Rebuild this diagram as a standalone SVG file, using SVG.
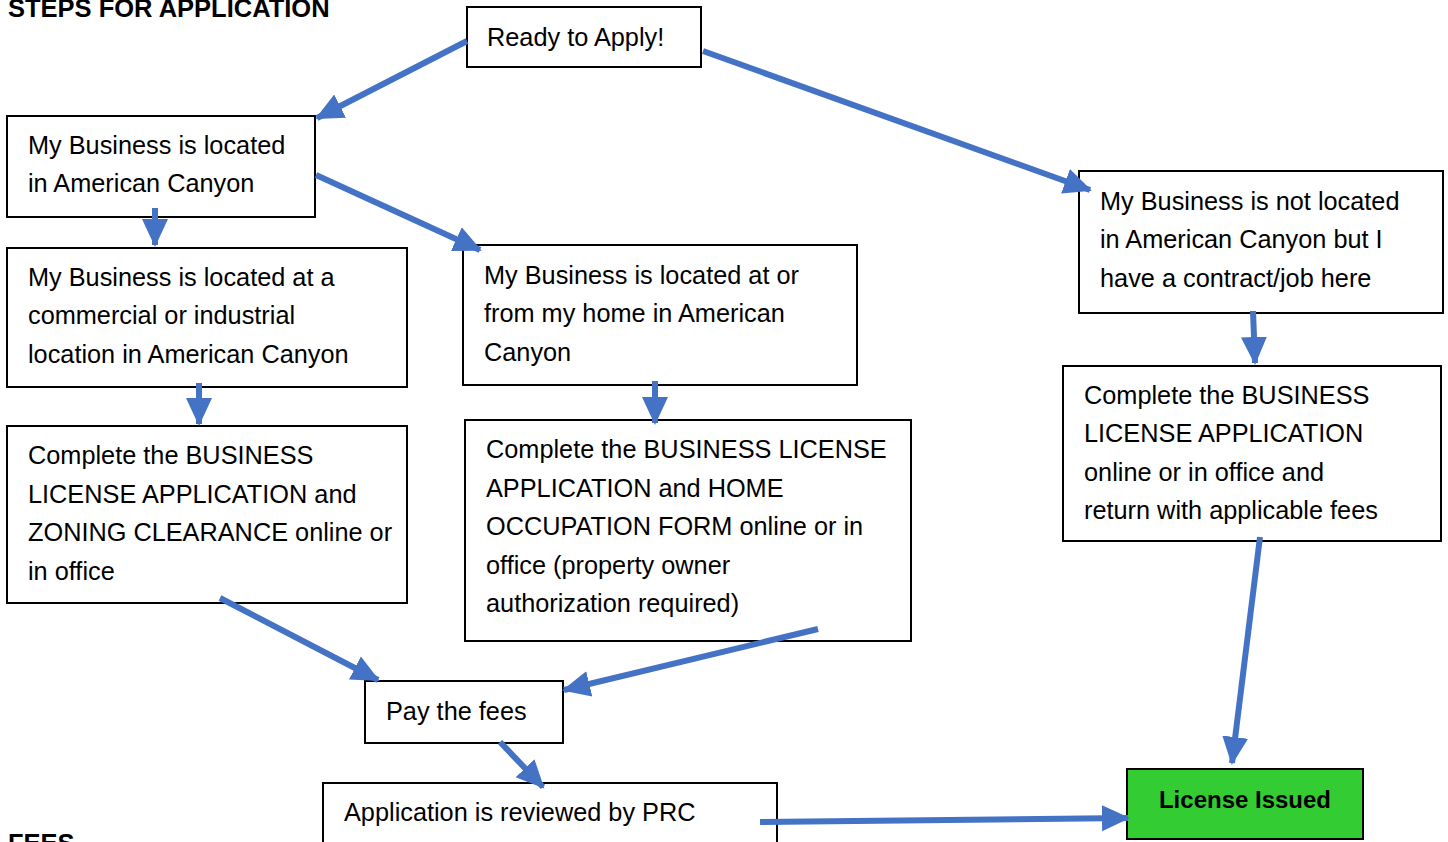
<svg xmlns="http://www.w3.org/2000/svg" width="1448" height="842" viewBox="0 0 1448 842">
<style>
.box{fill:#fff;stroke:#000;stroke-width:2}
.t{font-family:"Liberation Sans",Arial,sans-serif;font-size:25.3px;fill:#000}
.h{font-family:"Liberation Sans",Arial,sans-serif;font-size:25.5px;font-weight:bold;fill:#000}
.c{fill:none;stroke:#4472C4;stroke-width:6;marker-end:url(#ah)}
</style>
<defs>
<marker id="ah" markerUnits="userSpaceOnUse" markerWidth="30" markerHeight="30" viewBox="0 0 30 30" refX="26" refY="15" orient="auto">
<path d="M0,2 L28,15 L0,28 Z" fill="#4472C4"/>
</marker>
</defs>
<rect width="1448" height="842" fill="#fff"/>
<text class="h" x="8" y="17">STEPS FOR APPLICATION</text>
<text class="h" x="8" y="852">FEES</text>
<g id="n1"><rect class="box" x="467" y="7" width="234" height="60"/><text class="t" x="487" y="46">Ready to Apply!</text></g>
<g id="n2"><rect class="box" x="7" y="116" width="308" height="101"/><text class="t" x="28" y="154">My Business is located</text><text class="t" x="28" y="192">in American Canyon</text></g>
<g id="n3"><rect class="box" x="7" y="248" width="400" height="139"/><text class="t" x="28" y="286">My Business is located at a</text><text class="t" x="28" y="324">commercial or industrial</text><text class="t" x="28" y="363">location in American Canyon</text></g>
<g id="n4"><rect class="box" x="463" y="245" width="394" height="140"/><text class="t" x="484" y="284">My Business is located at or</text><text class="t" x="484" y="322">from my home in American</text><text class="t" x="484" y="361">Canyon</text></g>
<g id="n5"><rect class="box" x="1079" y="171" width="364" height="142"/><text class="t" x="1100" y="210">My Business is not located</text><text class="t" x="1100" y="248">in American Canyon but I</text><text class="t" x="1100" y="287">have a contract/job here</text></g>
<g id="n6"><rect class="box" x="7" y="426" width="400" height="177"/><text class="t" x="28" y="464">Complete the BUSINESS</text><text class="t" x="28" y="503">LICENSE APPLICATION and</text><text class="t" x="28" y="541">ZONING CLEARANCE online or</text><text class="t" x="28" y="580">in office</text></g>
<g id="n7"><rect class="box" x="465" y="420" width="446" height="221"/><text class="t" x="486" y="458">Complete the BUSINESS LICENSE</text><text class="t" x="486" y="497">APPLICATION and HOME</text><text class="t" x="486" y="535">OCCUPATION FORM online or in</text><text class="t" x="486" y="574">office (property owner</text><text class="t" x="486" y="612">authorization required)</text></g>
<g id="n8"><rect class="box" x="1063" y="366" width="378" height="175"/><text class="t" x="1084" y="404">Complete the BUSINESS</text><text class="t" x="1084" y="442">LICENSE APPLICATION</text><text class="t" x="1084" y="481">online or in office and</text><text class="t" x="1084" y="519">return with applicable fees</text></g>
<g id="n9"><rect class="box" x="365" y="681" width="198" height="62"/><text class="t" x="386" y="720">Pay the fees</text></g>
<g id="n10"><rect class="box" x="323" y="783" width="454" height="70"/><text class="t" x="344" y="821">Application is reviewed by PRC</text></g>
<g id="n11"><rect x="1127" y="769" width="236" height="70" fill="#33CC33" stroke="#000" stroke-width="2"/><text class="h" x="1245" y="808" text-anchor="middle" style="font-size:24px">License Issued</text></g>
<g id="connectors">
<line class="c" x1="467" y1="41" x2="317" y2="118"/>
<line class="c" x1="703" y1="51" x2="1090" y2="190"/>
<line class="c" x1="155" y1="208" x2="155" y2="245"/>
<line class="c" x1="316" y1="175" x2="480" y2="250"/>
<line class="c" x1="199" y1="383" x2="199" y2="424"/>
<line class="c" x1="655" y1="381" x2="655" y2="423"/>
<line class="c" x1="1253" y1="311" x2="1255" y2="363"/>
<line class="c" x1="220" y1="598" x2="378" y2="680"/>
<line class="c" x1="818" y1="629" x2="564" y2="690"/>
<line class="c" x1="500" y1="742" x2="543" y2="787"/>
<line class="c" x1="1260" y1="537" x2="1232" y2="763"/>
<line class="c" x1="760" y1="822" x2="1128" y2="818"/>
</g>
</svg>
